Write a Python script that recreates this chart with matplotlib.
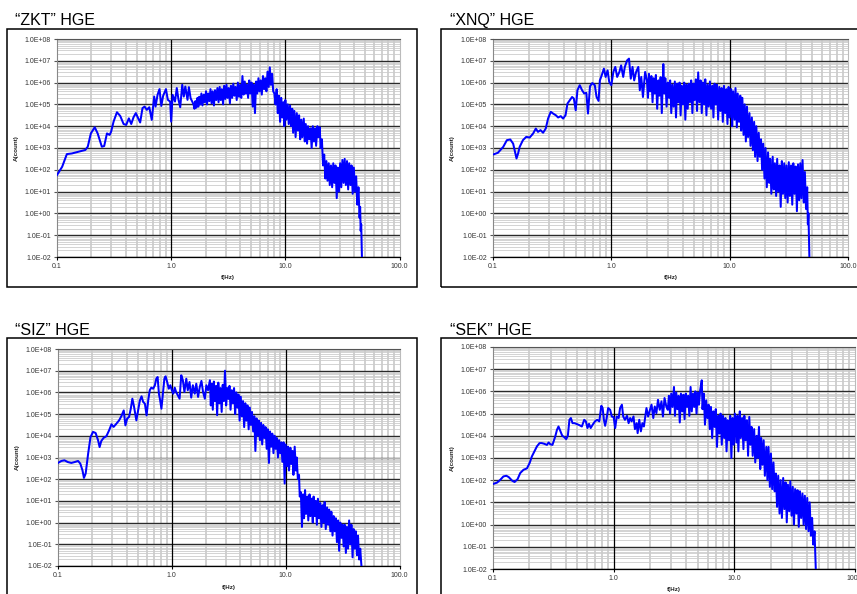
import matplotlib
matplotlib.use("Agg")
import matplotlib.pyplot as plt
import numpy as np
from matplotlib.ticker import LogLocator, FixedLocator, FixedFormatter, NullFormatter
from matplotlib.patches import Rectangle

# ---------------- data (frequency Hz, log10 amplitude) ----------------
titles = ["\u201cZKT\u201d HGE", "\u201cXNQ\u201d HGE", "\u201cSIZ\u201d HGE", "\u201cSEK\u201d HGE"]
x_ticks = [0.1, 1.0, 10.0, 100.0]
x_tick_labels = ["0.1", "1.0", "10.0", "100.0"]
y_exponents = list(range(-2, 9))
x_label = "f(Hz)"
y_label = "A(count)"

zkt = [
    (0.100, 1.76), (0.111, 2.14), (0.122, 2.72), (0.135, 2.75), (0.155, 2.83), (0.177, 2.91), (0.186, 3.06),
    (0.198, 3.67), (0.214, 3.95), (0.227, 3.67), (0.247, 3.06), (0.259, 3.09), (0.274, 3.67), (0.289, 3.60),
    (0.298, 3.75), (0.313, 4.21), (0.335, 4.64), (0.358, 4.47), (0.383, 4.10), (0.404, 4.06), (0.426, 4.36),
    (0.447, 4.10), (0.468, 4.41), (0.490, 4.60), (0.514, 4.36), (0.535, 4.17), (0.561, 4.83), (0.585, 4.90),
    (0.612, 4.75), (0.643, 4.87), (0.676, 4.29), (0.710, 5.36), (0.730, 4.90), (0.760, 5.44), (0.790, 5.70),
    (0.820, 4.93), (0.850, 5.39), (0.900, 5.70), (0.935, 5.21), (0.980, 5.13), (1.000, 4.21), (1.030, 5.44),
    (1.080, 5.13), (1.120, 5.75), (1.160, 5.21), (1.200, 4.87), (1.250, 5.90), (1.290, 5.36), (1.330, 5.82),
    (1.390, 5.21), (1.430, 5.79), (1.480, 5.28), (1.530, 5.13),
    (1.57, 5.00), (1.60, 4.80), (1.63, 5.15), (1.66, 4.85), (1.70, 5.30), (1.73, 4.90), (1.76, 5.35), (1.80, 5.00),
    (1.84, 5.50), (1.88, 4.95), (1.93, 5.45), (1.97, 5.10), (2.02, 5.60), (2.06, 5.00), (2.11, 5.50), (2.16, 5.15),
    (2.21, 5.70), (2.26, 5.05), (2.31, 5.60), (2.37, 4.95), (2.42, 5.65), (2.48, 5.20), (2.54, 5.75), (2.60, 5.10),
    (2.66, 5.80), (2.72, 5.20), (2.78, 5.70), (2.85, 5.00), (2.91, 5.85), (2.98, 5.25), (3.05, 5.90), (3.12, 5.30),
    (3.19, 5.75), (3.27, 5.05), (3.34, 5.85), (3.42, 5.30), (3.50, 5.95), (3.58, 5.40), (3.66, 5.80), (3.75, 5.20),
    (3.84, 6.00), (3.93, 5.35), (4.02, 5.90), (4.11, 5.30), (4.21, 6.30), (4.31, 5.45), (4.41, 6.05), (4.51, 5.50),
    (4.61, 5.90), (4.72, 5.30), (4.83, 6.10), (4.94, 5.50), (5.06, 6.00), (5.18, 4.90), (5.30, 5.90), (5.42, 4.60),
    (5.55, 6.05), (5.68, 5.50), (5.81, 6.20), (5.94, 5.60), (6.08, 6.10), (6.22, 5.45), (6.37, 6.30), (6.52, 5.70),
    (6.67, 6.20), (6.83, 5.60), (6.98, 6.50), (7.15, 5.80), (7.31, 6.70), (7.48, 5.90), (7.66, 6.40), (7.83, 5.60),
    (8.02, 5.50), (8.20, 5.00), (8.39, 5.70), (8.59, 4.60), (8.79, 5.40), (9.00, 4.20), (9.20, 5.30), (9.40, 4.40),
    (9.60, 5.10), (9.80, 4.00), (10.0, 5.20), (10.2, 4.30), (10.5, 5.00), (10.7, 4.10), (11.0, 4.95), (11.2, 4.00),
    (11.5, 4.80), (11.7, 3.70), (12.0, 4.70), (12.3, 3.50), (12.6, 4.60), (12.9, 3.80), (13.2, 4.50), (13.5, 3.40),
    (13.8, 4.30), (14.1, 3.50), (14.5, 4.35), (14.8, 3.30), (15.1, 4.10), (15.5, 3.20), (15.8, 4.00), (16.2, 3.40),
    (16.6, 3.90), (17.0, 3.00), (17.4, 4.00), (17.8, 3.30), (18.2, 3.90), (18.6, 3.10), (19.1, 4.00), (19.5, 3.50),
    (20.0, 3.95), (20.4, 3.00), (20.9, 3.40), (21.4, 2.20), (21.9, 2.70), (22.4, 1.60), (22.9, 2.40), (23.4, 1.50),
    (24.0, 2.30), (24.5, 1.30), (25.1, 2.20), (25.7, 1.20), (26.3, 2.30), (26.9, 1.40), (27.5, 2.20), (28.2, 0.70),
    (28.8, 2.10), (29.5, 1.00), (30.2, 2.30), (30.9, 1.20), (31.6, 2.45), (32.4, 1.40), (33.1, 2.50), (33.9, 1.30),
    (34.7, 2.40), (35.5, 1.10), (36.3, 2.30), (37.2, 1.30), (38.0, 2.20), (38.9, 0.90), (39.8, 2.10), (40.7, 1.00),
    (41.7, 1.70), (42.7, 0.40), (43.7, 1.20), (44.7, -0.20), (45.2, 0.30), (45.7, -0.80), (46.2, -0.50),
    (46.6, -1.50), (47.0, -2.30),
]

xnq = [
    (0.100, 2.70), (0.110, 2.78), (0.122, 3.05), (0.131, 3.36), (0.140, 3.39), (0.148, 3.20), (0.153, 2.85),
    (0.158, 2.52), (0.163, 2.75), (0.168, 3.05), (0.179, 3.36), (0.191, 3.51), (0.204, 3.48), (0.218, 3.66),
    (0.230, 3.89), (0.240, 3.74), (0.252, 3.82), (0.265, 3.70), (0.279, 3.89), (0.292, 4.35), (0.308, 4.66),
    (0.322, 4.58), (0.340, 4.50), (0.355, 4.40), (0.374, 4.46), (0.391, 4.35), (0.410, 4.50), (0.426, 5.04),
    (0.446, 5.19), (0.466, 5.34), (0.482, 5.27), (0.500, 4.73), (0.517, 5.65), (0.541, 5.88), (0.566, 5.65),
    (0.590, 5.50), (0.615, 5.53), (0.635, 4.58), (0.660, 5.83), (0.690, 5.98), (0.725, 5.88), (0.750, 5.34),
    (0.780, 5.16), (0.800, 6.10), (0.830, 6.34), (0.865, 6.64), (0.895, 6.26), (0.930, 6.56), (0.960, 6.03),
    (1.000, 5.88), (1.040, 6.49), (1.080, 6.72), (1.120, 6.26), (1.170, 6.49), (1.210, 6.79), (1.260, 6.26),
    (1.300, 6.72), (1.360, 7.02), (1.410, 7.10), (1.460, 6.18), (1.510, 6.72), (1.560, 6.10), (1.620, 6.49),
    (1.690, 6.72), (1.740, 5.65), (1.790, 6.26), (1.850, 5.34), (1.930, 6.49), (2.000, 6.10),
    (2.04, 5.30), (2.08, 6.40), (2.13, 5.60), (2.18, 6.30), (2.23, 5.10), (2.28, 6.20), (2.33, 5.50), (2.38, 6.35),
    (2.44, 4.80), (2.50, 6.10), (2.55, 5.40), (2.61, 6.25), (2.67, 4.60), (2.75, 6.85), (2.80, 5.50), (2.86, 6.20),
    (2.93, 4.90), (3.00, 6.00), (3.07, 5.30), (3.14, 6.10), (3.21, 4.60), (3.28, 5.90), (3.36, 4.90), (3.44, 6.05),
    (3.52, 4.40), (3.60, 5.95), (3.68, 5.10), (3.77, 6.00), (3.85, 4.50), (3.94, 5.85), (4.03, 5.00), (4.13, 6.00),
    (4.22, 4.30), (4.32, 5.90), (4.42, 4.80), (4.52, 5.95), (4.62, 5.10), (4.73, 6.10), (4.84, 4.60), (4.95, 5.95),
    (5.06, 5.20), (5.18, 6.15), (5.30, 4.70), (5.42, 6.47), (5.55, 5.10), (5.68, 6.10), (5.81, 4.60), (5.94, 6.00),
    (6.08, 5.00), (6.22, 6.15), (6.36, 4.50), (6.51, 5.90), (6.66, 4.90), (6.81, 6.05), (6.97, 4.80), (7.13, 5.85),
    (7.29, 4.40), (7.46, 5.95), (7.63, 5.00), (7.81, 5.90), (7.99, 4.30), (8.17, 5.80), (8.36, 4.70), (8.55, 5.75),
    (8.75, 4.20), (8.95, 5.85), (9.15, 4.60), (9.36, 5.70), (9.58, 4.10), (9.80, 5.80), (10.0, 4.40), (10.3, 5.70),
    (10.5, 4.00), (10.7, 5.60), (11.0, 4.30), (11.2, 5.75), (11.5, 3.95), (11.7, 5.50), (12.0, 4.20), (12.3, 5.40),
    (12.5, 3.80), (12.8, 5.30), (13.1, 3.60), (13.4, 5.00), (13.7, 3.30), (14.0, 4.90), (14.3, 3.50), (14.7, 4.60),
    (15.0, 3.10), (15.4, 4.40), (15.7, 2.90), (16.1, 4.20), (16.4, 2.60), (16.8, 4.00), (17.2, 2.40), (17.6, 3.70),
    (18.0, 2.60), (18.4, 3.40), (18.8, 2.00), (19.2, 3.20), (19.7, 1.60), (20.1, 3.00), (20.6, 1.20), (21.1, 2.80),
    (21.6, 1.40), (22.0, 2.50), (22.5, 0.90), (23.1, 2.60), (23.6, 1.10), (24.1, 2.30), (24.7, 0.80), (25.2, 2.50),
    (25.8, 1.00), (26.4, 2.20), (27.0, 0.30), (27.6, 2.40), (28.2, 0.90), (28.9, 2.30), (29.5, 0.70), (30.2, 2.20),
    (30.9, 0.50), (31.6, 2.35), (32.3, 0.80), (33.0, 2.20), (33.8, 0.40), (34.5, 2.30), (35.3, 0.90), (36.1, 2.15),
    (37.0, 0.10), (37.8, 2.25), (38.7, 0.60), (39.5, 2.30), (40.4, 0.70), (41.3, 2.45), (42.3, 0.50), (43.2, 1.90),
    (44.2, 0.20), (45.2, 1.20), (45.8, -0.50), (46.3, 0.00), (46.8, -1.20), (47.3, -2.30),
]

siz = [
    (0.100, 2.75), (0.107, 2.84), (0.114, 2.87), (0.122, 2.79), (0.131, 2.75), (0.140, 2.79), (0.150, 2.84),
    (0.157, 2.72), (0.164, 2.41), (0.169, 2.06), (0.175, 2.26), (0.184, 3.18), (0.193, 3.94), (0.203, 4.18),
    (0.214, 4.13), (0.225, 3.79), (0.232, 3.48), (0.240, 3.76), (0.252, 3.91), (0.266, 3.98), (0.281, 4.25),
    (0.295, 4.53), (0.308, 4.41), (0.326, 4.56), (0.344, 4.71), (0.360, 4.90), (0.378, 5.17), (0.391, 4.48),
    (0.405, 4.79), (0.421, 4.87), (0.436, 5.25), (0.450, 5.71), (0.466, 5.33), (0.488, 4.71), (0.506, 5.17),
    (0.524, 5.63), (0.542, 5.82), (0.560, 5.56), (0.580, 5.48), (0.600, 4.94), (0.620, 5.63), (0.640, 6.10),
    (0.660, 6.22), (0.685, 6.17), (0.710, 6.33), (0.730, 6.63), (0.750, 6.71), (0.770, 5.94), (0.790, 5.63),
    (0.810, 5.25), (0.840, 6.10), (0.860, 6.63), (0.880, 6.74), (0.910, 6.48), (0.940, 6.17), (0.970, 6.33),
    (1.000, 6.10), (1.030, 5.94), (1.060, 6.22), (1.090, 6.02), (1.130, 5.86), (1.170, 5.71), (1.210, 6.79),
    (1.250, 6.56), (1.290, 6.02), (1.340, 6.63), (1.380, 6.10), (1.430, 6.48), (1.480, 5.76), (1.530, 6.33),
    (1.590, 5.94), (1.640, 6.40), (1.700, 5.79), (1.760, 6.25), (1.820, 6.53), (1.880, 6.02), (1.950, 5.71),
    (2.010, 6.33), (2.080, 6.10), (2.160, 6.56),
    (2.20, 5.40), (2.24, 6.40), (2.29, 5.20), (2.34, 6.50), (2.39, 5.60), (2.45, 6.30), (2.50, 4.95), (2.56, 6.45),
    (2.62, 5.50), (2.68, 6.20), (2.74, 5.10), (2.80, 6.35), (2.87, 5.60), (2.93, 7.00), (3.00, 5.40), (3.07, 6.20),
    (3.14, 5.70), (3.21, 6.30), (3.28, 5.20), (3.36, 6.10), (3.44, 5.50), (3.52, 6.20), (3.60, 5.00), (3.68, 6.00),
    (3.77, 5.30), (3.85, 5.90), (3.94, 4.70), (4.03, 5.80), (4.13, 4.90), (4.22, 5.60), (4.32, 4.40), (4.42, 5.50),
    (4.52, 4.70), (4.62, 5.40), (4.73, 4.30), (4.84, 5.30), (4.95, 4.50), (5.06, 5.10), (5.18, 4.20), (5.30, 4.90),
    (5.42, 3.30), (5.55, 4.80), (5.68, 4.00), (5.81, 4.70), (5.94, 3.80), (6.08, 4.60), (6.22, 3.60), (6.36, 4.50),
    (6.51, 3.90), (6.66, 4.40), (6.81, 3.40), (6.97, 4.30), (7.13, 2.75), (7.29, 4.20), (7.46, 3.50), (7.63, 4.10),
    (7.81, 3.20), (7.99, 4.00), (8.17, 3.40), (8.36, 3.90), (8.55, 3.00), (8.75, 3.80), (8.95, 3.20), (9.15, 3.70),
    (9.36, 2.80), (9.58, 3.70), (9.80, 1.80), (10.0, 3.60), (10.3, 2.60), (10.5, 3.50), (10.7, 2.40), (11.0, 3.45),
    (11.2, 2.70), (11.5, 3.30), (11.7, 2.20), (12.0, 3.50), (12.3, 2.40), (12.5, 3.00), (12.8, 2.00), (13.1, 2.20),
    (13.3, 1.20), (13.6, 1.40), (13.9, -0.20), (14.2, 1.30), (14.5, 0.20), (14.8, 1.50), (15.1, 0.40), (15.5, 1.20),
    (15.8, 0.10), (16.2, 1.30), (16.5, 0.30), (16.9, 1.10), (17.3, 0.00), (17.6, 1.20), (18.0, 0.30), (18.4, 1.00),
    (18.8, -0.10), (19.2, 1.10), (19.7, 0.20), (20.1, 0.90), (20.6, -0.20), (21.1, 0.80), (21.5, 0.00), (22.0, 0.95),
    (22.5, -0.30), (23.1, 0.70), (23.6, -0.10), (24.1, 0.60), (24.7, -0.40), (25.2, 0.50), (25.8, -0.60),
    (26.4, 0.30), (27.0, -0.40), (27.6, 0.20), (28.2, -0.90), (28.9, 0.10), (29.5, -1.30), (30.2, 0.00),
    (30.9, -0.70), (31.6, -0.10), (32.3, -1.10), (33.0, -0.10), (33.8, -1.40), (34.5, -0.20), (35.3, -1.20),
    (36.1, 0.10), (37.0, -1.00), (37.8, -0.10), (38.7, -1.60), (39.5, -0.30), (40.4, -1.20), (41.3, -0.40),
    (42.3, -1.50), (43.2, -0.60), (44.2, -1.70), (45.2, -1.20), (46.0, -1.80), (46.8, -2.30),
]

sek = [
    (0.100, 1.83), (0.108, 1.89), (0.115, 2.02), (0.122, 2.17), (0.129, 2.20), (0.135, 2.14), (0.144, 1.98),
    (0.151, 1.92), (0.160, 2.05), (0.168, 2.32), (0.179, 2.47), (0.191, 2.53), (0.201, 2.77), (0.210, 3.07),
    (0.220, 3.29), (0.231, 3.52), (0.243, 3.67), (0.254, 3.67), (0.266, 3.64), (0.280, 3.59), (0.289, 3.70),
    (0.298, 3.62), (0.311, 3.59), (0.328, 3.97), (0.339, 4.27), (0.349, 4.42), (0.360, 4.24), (0.375, 4.00),
    (0.390, 3.94), (0.404, 3.85), (0.417, 4.00), (0.430, 4.72), (0.442, 4.80), (0.456, 4.57), (0.473, 4.57),
    (0.495, 4.53), (0.520, 4.48), (0.545, 4.42), (0.570, 4.72), (0.588, 4.65), (0.607, 4.35), (0.625, 4.54),
    (0.645, 4.35), (0.670, 4.50), (0.700, 4.65), (0.730, 4.72), (0.760, 4.65), (0.790, 5.35), (0.810, 5.25),
    (0.830, 4.72), (0.850, 4.45), (0.880, 4.87), (0.900, 5.25), (0.935, 5.17), (0.965, 4.87), (1.000, 4.84),
    (1.030, 4.35), (1.060, 4.87), (1.100, 4.80), (1.130, 5.25), (1.170, 5.40), (1.200, 4.87), (1.240, 4.72),
    (1.290, 4.90), (1.330, 4.57), (1.370, 4.80), (1.410, 4.65), (1.460, 4.87), (1.500, 4.30), (1.550, 4.57),
    (1.580, 4.12), (1.630, 4.72), (1.680, 4.20), (1.730, 4.57), (1.780, 4.42), (1.830, 4.90), (1.870, 5.25),
    (1.930, 4.87), (2.000, 5.17), (2.060, 5.40), (2.130, 4.80), (2.190, 5.32), (2.260, 5.02), (2.330, 5.62),
    (2.410, 5.17), (2.490, 5.55), (2.560, 4.87), (2.640, 5.70), (2.730, 5.32), (2.810, 5.17),
    (2.87, 5.80), (2.93, 5.00), (3.00, 5.90), (3.07, 5.30), (3.16, 6.20), (3.22, 4.90), (3.30, 5.95), (3.37, 5.20),
    (3.45, 5.80), (3.53, 4.60), (3.61, 5.90), (3.70, 5.10), (3.78, 5.85), (3.87, 4.75), (3.96, 5.90), (4.05, 5.30),
    (4.14, 5.80), (4.24, 4.90), (4.34, 6.20), (4.44, 5.10), (4.54, 5.90), (4.65, 5.30), (4.75, 6.00), (4.86, 5.00),
    (4.98, 5.95), (5.09, 5.40), (5.21, 6.05), (5.37, 6.50), (5.45, 5.20), (5.58, 5.90), (5.71, 4.50), (5.84, 5.60),
    (5.98, 4.80), (6.12, 5.40), (6.26, 4.30), (6.40, 5.30), (6.55, 3.90), (6.70, 5.10), (6.86, 4.40), (7.02, 5.20),
    (7.18, 3.50), (7.35, 4.90), (7.52, 4.10), (7.69, 5.00), (7.87, 3.60), (8.05, 4.90), (8.24, 3.90), (8.43, 4.80),
    (8.62, 3.30), (8.82, 4.70), (9.03, 3.80), (9.24, 4.90), (9.45, 3.00), (9.67, 4.80), (9.89, 3.60), (10.1, 5.00),
    (10.4, 3.70), (10.6, 4.90), (10.8, 3.30), (11.1, 5.10), (11.3, 3.90), (11.6, 4.80), (11.9, 3.40), (12.1, 4.90),
    (12.4, 3.80), (12.7, 4.70), (13.0, 3.10), (13.3, 4.85), (13.6, 3.60), (13.9, 4.40), (14.2, 3.10), (14.6, 4.30),
    (14.9, 2.80), (15.3, 4.00), (15.6, 3.00), (16.0, 4.40), (16.4, 2.50), (16.7, 3.90), (17.1, 2.70), (17.5, 3.80),
    (17.9, 2.20), (18.4, 3.50), (18.8, 2.00), (19.2, 3.50), (19.7, 1.70), (20.1, 3.20), (20.6, 1.60), (21.1, 2.80),
    (21.6, 1.50), (22.1, 2.30), (22.6, 0.80), (23.1, 2.20), (23.7, 0.50), (24.2, 2.00), (24.8, 0.30), (25.4, 2.10),
    (26.0, 0.70), (26.6, 1.90), (27.2, 0.10), (27.8, 1.80), (28.5, 0.60), (29.1, 1.95), (29.8, 0.40), (30.5, 1.70),
    (31.2, 0.00), (31.9, 1.60), (32.7, 0.50), (33.4, 1.55), (34.2, -0.10), (35.0, 1.50), (35.8, 0.30), (36.7, 1.40),
    (37.5, 0.00), (38.4, 1.30), (39.3, -0.20), (40.2, 1.20), (41.2, -0.30), (42.1, 1.00), (43.1, -0.50),
    (44.1, 0.30), (45.1, -0.90), (46.2, -0.30), (47.0, -1.50), (47.5, -2.30),
]

series = [zkt, xnq, siz, sek]

# ---------------- layout (pixels) ----------------
W, H = 857, 594
plot_rects = [(57, 39, 399.5, 257), (493, 39, 848, 257), (58, 349, 399.5, 566), (493, 347, 855, 569)]
box_rects = [(7, 29, 417, 287), (441, 29, 880, 287), (7, 338, 417, 620), (441, 338, 880, 620)]
title_pos = [(15, 25), (450, 25), (15, 335), (450, 335)]

FONT = ["Liberation Sans", "DejaVu Sans"]
plt.rcParams["font.family"] = FONT

fig = plt.figure(figsize=(W / 100, H / 100), dpi=100)
fig.patch.set_facecolor("white")


def fx(px):
    return px / W


def fy(py):
    return 1 - py / H


def ylab(k):
    return "1.0E%s%02d" % ("+" if k >= 0 else "-", abs(k))


for i in range(4):
    l, t, r, b = box_rects[i]
    fig.add_artist(Rectangle((fx(l), fy(b)), fx(r) - fx(l), fy(t) - fy(b), transform=fig.transFigure,
                             fill=False, edgecolor="black", linewidth=1.1, clip_on=False))
    tx, ty = title_pos[i]
    fig.text(fx(tx), fy(ty), titles[i], fontsize=11.5, va="baseline", ha="left", color="black")

    l, t, r, b = plot_rects[i]
    ax = fig.add_axes([fx(l), fy(b), fx(r) - fx(l), fy(t) - fy(b)])
    ax.set_xscale("log")
    ax.set_yscale("log")
    ax.set_xlim(0.1, 100)
    ax.set_ylim(1e-2, 1e8)
    ax.set_facecolor("white")

    ax.xaxis.set_major_locator(FixedLocator(x_ticks))
    ax.xaxis.set_major_formatter(FixedFormatter(x_tick_labels))
    ax.xaxis.set_minor_locator(LogLocator(base=10, subs=np.arange(2, 10), numticks=100))
    ax.xaxis.set_minor_formatter(NullFormatter())
    yt = [10.0 ** k for k in y_exponents]
    ax.yaxis.set_major_locator(FixedLocator(yt))
    ax.yaxis.set_major_formatter(FixedFormatter([ylab(k) for k in y_exponents]))
    ax.yaxis.set_minor_locator(LogLocator(base=10, subs=np.arange(2, 10), numticks=100))
    ax.yaxis.set_minor_formatter(NullFormatter())

    ax.set_axisbelow(True)
    ax.grid(which="minor", axis="y", color="#cccccc", linewidth=0.6)
    ax.grid(which="minor", axis="x", color="#c8c8c8", linewidth=1.2)
    ax.grid(which="major", axis="y", color="#2a2a2a", linewidth=1.0)
    # decade verticals drawn on top of the grey horizontal grid
    for xv in x_ticks[1:-1]:
        ax.axvline(xv, color="black", linewidth=0.9, zorder=1.5)

    ax.tick_params(which="minor", length=0)
    ax.tick_params(which="major", axis="both", length=2.5, width=0.8, direction="out",
                   labelsize=5, labelcolor="#333333", pad=2)
    ax.tick_params(which="major", axis="y", color="#555555")

    ax.spines["top"].set_color("#555555")
    ax.spines["top"].set_linewidth(0.8)
    ax.spines["right"].set_color("#bbbbbb")
    ax.spines["right"].set_linewidth(0.8)
    ax.spines["left"].set_color("#888888")
    ax.spines["left"].set_linewidth(0.8)
    ax.spines["bottom"].set_color("black")
    ax.spines["bottom"].set_linewidth(0.9)

    f = np.array([p[0] for p in series[i]])
    a = np.array([p[1] for p in series[i]])
    ax.plot(f, 10.0 ** a, color="#0000ff", linewidth=1.45, zorder=3)

    # axis labels
    fig.text(fx((l + r) / 2), fy(b + 21), x_label, fontsize=4.5, fontweight="bold", ha="center", va="center",
             color="#222222")
    fig.text(fx(l - 41), fy((t + b) / 2), y_label, fontsize=4.5, fontweight="bold", ha="center", va="center",
             rotation=90, color="#222222")

fig.savefig("out.png", dpi=100, facecolor="white")
